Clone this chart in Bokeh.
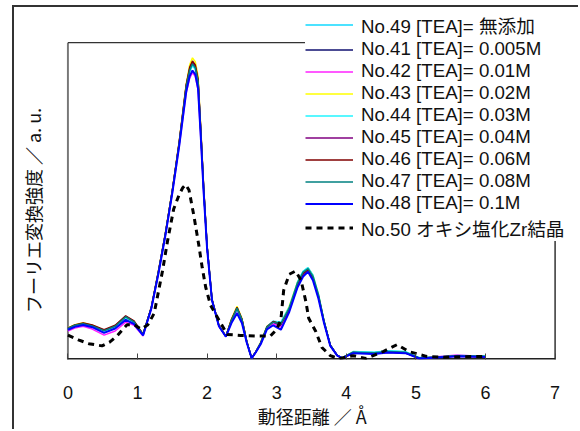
from bokeh.plotting import figure
from bokeh.models import Range1d, FixedTicker, Legend, LegendItem
from bokeh.embed import file_html
from bokeh.resources import INLINE

# ---- data ----
r = [0.00, 0.10, 0.22, 0.35, 0.52, 0.68, 0.83, 0.95, 1.08,
     1.20, 1.30, 1.40, 1.50, 1.60, 1.70, 1.75, 1.79, 1.83, 1.87,
     1.91, 1.95, 2.00, 2.07, 2.17, 2.27, 2.35, 2.43, 2.50, 2.57,
     2.64, 2.70, 2.77, 2.86, 2.95, 3.06, 3.18, 3.30, 3.38, 3.45,
     3.52, 3.60, 3.68, 3.77, 3.87, 3.94, 4.10, 4.40, 4.60, 4.85,
     5.05, 5.30, 5.60, 6.00]

no49 = [0.96, 1.06, 1.12, 1.04, 0.88, 1.02, 1.30, 1.16, 0.78,
        1.64, 2.74, 3.94, 5.30, 6.82, 8.58, 9.10, 9.30, 9.18, 8.75,
        7.13, 5.38, 3.55, 1.89, 1.06, 0.73, 1.22, 1.58, 1.24, 0.55,
        0.04, 0.24, 0.52, 1.03, 1.20, 1.16, 1.64, 2.44, 2.78, 2.90,
        2.66, 2.06, 1.22, 0.45, 0.13, 0.05, 0.24, 0.22, 0.27, 0.24,
        0.05, 0.08, 0.12, 0.10]
no41 = [0.97, 1.07, 1.13, 1.06, 0.90, 1.04, 1.33, 1.18, 0.78,
        1.64, 2.75, 3.95, 5.31, 6.84, 8.62, 9.15, 9.35, 9.23, 8.80,
        7.18, 5.42, 3.56, 1.89, 1.06, 0.73, 1.23, 1.60, 1.25, 0.56,
        0.04, 0.24, 0.51, 1.00, 1.16, 1.06, 1.56, 2.34, 2.69, 2.81,
        2.57, 1.98, 1.18, 0.44, 0.12, 0.04, 0.21, 0.19, 0.23, 0.21,
        0.04, 0.07, 0.11, 0.09]
no42 = [0.90, 0.99, 1.05, 0.96, 0.77, 0.90, 1.18, 1.08, 0.74,
        1.60, 2.70, 3.90, 5.24, 6.74, 8.42, 8.88, 9.05, 8.94, 8.52,
        6.98, 5.28, 3.50, 1.87, 1.05, 0.72, 1.18, 1.52, 1.20, 0.54,
        0.04, 0.23, 0.50, 0.99, 1.13, 1.02, 1.54, 2.33, 2.68, 2.80,
        2.56, 1.97, 1.18, 0.44, 0.12, 0.04, 0.20, 0.20, 0.24, 0.22,
        0.04, 0.09, 0.14, 0.09]
no43 = [1.00, 1.10, 1.16, 1.08, 0.92, 1.06, 1.35, 1.20, 0.80,
        1.66, 2.78, 3.98, 5.35, 6.90, 8.70, 9.30, 9.52, 9.40, 8.95,
        7.30, 5.50, 3.60, 1.92, 1.08, 0.74, 1.28, 1.68, 1.30, 0.58,
        0.04, 0.25, 0.55, 1.05, 1.18, 1.14, 1.68, 2.45, 2.76, 2.88,
        2.65, 2.05, 1.22, 0.46, 0.13, 0.05, 0.24, 0.20, 0.26, 0.22,
        0.05, 0.07, 0.12, 0.10]
no44 = [0.96, 1.05, 1.11, 1.04, 0.87, 1.01, 1.29, 1.15, 0.77,
        1.63, 2.73, 3.93, 5.29, 6.80, 8.56, 9.08, 9.28, 9.16, 8.73,
        7.12, 5.37, 3.55, 1.88, 1.06, 0.73, 1.22, 1.57, 1.23, 0.55,
        0.04, 0.24, 0.53, 1.04, 1.21, 1.18, 1.65, 2.44, 2.78, 2.89,
        2.66, 2.05, 1.22, 0.45, 0.13, 0.05, 0.25, 0.23, 0.28, 0.25,
        0.06, 0.08, 0.13, 0.11]
no45 = [0.98, 1.08, 1.14, 1.07, 0.92, 1.06, 1.36, 1.20, 0.79,
        1.65, 2.76, 3.96, 5.32, 6.86, 8.65, 9.18, 9.38, 9.26, 8.82,
        7.20, 5.43, 3.57, 1.90, 1.07, 0.73, 1.24, 1.62, 1.27, 0.56,
        0.04, 0.24, 0.52, 1.02, 1.19, 1.10, 1.58, 2.36, 2.70, 2.82,
        2.58, 1.99, 1.19, 0.45, 0.13, 0.05, 0.22, 0.18, 0.23, 0.20,
        0.04, 0.06, 0.10, 0.08]
no46 = [0.99, 1.09, 1.15, 1.09, 0.94, 1.08, 1.38, 1.22, 0.80,
        1.66, 2.78, 3.97, 5.33, 6.88, 8.67, 9.22, 9.42, 9.30, 8.85,
        7.22, 5.45, 3.58, 1.90, 1.07, 0.73, 1.26, 1.65, 1.28, 0.57,
        0.04, 0.24, 0.52, 1.03, 1.20, 1.12, 1.60, 2.38, 2.72, 2.84,
        2.60, 2.00, 1.20, 0.45, 0.13, 0.05, 0.22, 0.19, 0.24, 0.21,
        0.04, 0.08, 0.11, 0.09]
no47 = [0.98, 1.08, 1.13, 1.06, 0.91, 1.05, 1.35, 1.19, 0.79,
        1.64, 2.76, 3.95, 5.31, 6.84, 8.61, 9.13, 9.33, 9.21, 8.78,
        7.16, 5.40, 3.56, 1.89, 1.06, 0.73, 1.24, 1.62, 1.27, 0.56,
        0.04, 0.24, 0.52, 1.02, 1.18, 1.12, 1.62, 2.42, 2.76, 2.87,
        2.63, 2.03, 1.21, 0.45, 0.13, 0.05, 0.23, 0.21, 0.25, 0.23,
        0.05, 0.07, 0.12, 0.10]
no48 = [0.94, 1.03, 1.09, 1.02, 0.84, 0.98, 1.25, 1.12, 0.76,
        1.62, 2.70, 3.90, 5.25, 6.75, 8.45, 8.95, 9.12, 9.00, 8.55,
        7.00, 5.30, 3.50, 1.87, 1.05, 0.72, 1.15, 1.46, 1.15, 0.53,
        0.04, 0.23, 0.48, 0.95, 1.08, 0.94, 1.50, 2.28, 2.62, 2.77,
        2.50, 1.92, 1.15, 0.43, 0.12, 0.04, 0.20, 0.17, 0.22, 0.20,
        0.03, 0.06, 0.10, 0.08]

r50 = [0.00, 0.15, 0.30, 0.49, 0.60, 0.71, 0.85, 0.95, 1.05, 1.15,
       1.24, 1.36, 1.43, 1.52, 1.60, 1.65, 1.69, 1.74, 1.81, 1.88,
       1.93, 1.98, 2.05, 2.17, 2.29, 2.48, 2.74, 2.91, 3.00, 3.06,
       3.10, 3.18, 3.27, 3.35, 3.42, 3.46, 3.56, 3.65, 3.77, 3.90,
       4.00, 4.10, 4.28, 4.53, 4.73, 4.90, 5.15, 5.40, 5.70, 6.00]
no50 = [0.77, 0.62, 0.50, 0.43, 0.55, 0.75, 1.10, 1.10, 0.96, 1.10,
        1.46, 2.80, 3.72, 4.75, 5.21, 5.42, 5.52, 5.35, 4.54, 3.62,
        2.90, 2.28, 1.71, 1.25, 0.79, 0.76, 0.74, 0.74, 0.95, 1.25,
        2.18, 2.69, 2.79, 2.50, 1.82, 1.30, 0.89, 0.38, 0.12, 0.02,
        0.08, 0.12, 0.03, 0.25, 0.47, 0.25, 0.10, 0.07, 0.09, 0.10]

labels = ["No.49 [TEA]= 無添加", "No.41 [TEA]= 0.005M", "No.42 [TEA]= 0.01M",
          "No.43 [TEA]= 0.02M", "No.44 [TEA]= 0.03M", "No.45 [TEA]= 0.04M",
          "No.46 [TEA]= 0.06M", "No.47 [TEA]= 0.08M", "No.48 [TEA]= 0.1M",
          "No.50 オキシ塩化Zr結晶"]
colors = ["#10d8ff", "#101070", "#ff22ff", "#ffff00", "#22f4ff",
          "#800080", "#800000", "#008080", "#0000ff", "#000000"]
series = [no49, no41, no42, no43, no44, no45, no46, no47, no48]
x_ticks = [0, 1, 2, 3, 4, 5, 6, 7]
box_x = [0, 7]      # plot box extent (data units)
box_y = [0, 10]

CJK = "Noto Sans CJK JP"

p = figure(width=566, height=424, output_backend="svg", toolbar_location=None,
           x_range=Range1d(-0.02, 7.365), y_range=Range1d(0, 11.11),
           min_border_left=52, min_border_right=0, min_border_top=0, min_border_bottom=64)
p.margin = (7, 0, 0, 14)
p.styles = {"box-shadow": "-2px -2px 0 0 #333"}
p.grid.visible = False
p.outline_line_color = None
p.background_fill_color = "white"
p.border_fill_color = "white"

p.xaxis.ticker = FixedTicker(ticks=x_ticks)
p.xaxis.major_tick_in = 6
p.xaxis.major_tick_out = 0
p.xaxis.minor_tick_line_color = None
p.xaxis.major_label_standoff = 26
p.xaxis.major_label_text_font = "Liberation Sans"
p.xaxis.major_label_text_font_size = "18px"
p.xaxis.major_label_text_color = "#111111"
p.xaxis.axis_line_color = None
p.xaxis.major_tick_line_color = "#444444"
p.xaxis.axis_label = "動径距離 ／ Å\u3000\u2005"
p.xaxis.axis_label_text_font = CJK
p.xaxis.axis_label_text_font_style = "normal"
p.xaxis.axis_label_text_font_size = "18px"
p.xaxis.axis_label_text_color = "#111111"
p.xaxis.axis_label_standoff = 1

p.yaxis.ticker = FixedTicker(ticks=[])
p.yaxis.major_tick_out = 0
p.yaxis.major_tick_in = 0
p.yaxis.minor_tick_line_color = None
p.yaxis.axis_line_color = None
p.yaxis.axis_label = "フーリエ変換強度 ／ a. u.\u3000\u3000\u3000"
p.yaxis.axis_label_text_font = CJK
p.yaxis.axis_label_text_font_style = "normal"
p.yaxis.axis_label_text_font_size = "18px"
p.yaxis.axis_label_text_color = "#111111"
p.yaxis.axis_label_standoff = 21

# plot box borders
p.line([box_x[0], box_x[0]], box_y, line_color="#777777", line_width=2)
p.line(box_x, [box_y[1], box_y[1]], line_color="#333333", line_width=1.2)
p.line([box_x[1], box_x[1]], box_y, line_color="#333333", line_width=1.5)
p.line(box_x, [box_y[0], box_y[0]], line_color="#222222", line_width=3)

renderers = []
for ys, c in zip(series, colors[:9]):
    w = 2 if c == "#0000ff" else 1.5
    renderers.append(p.line(r, ys, line_color=c, line_width=w))
renderers.append(p.line(r50, no50, line_color="black", line_width=3, line_dash="6 5"))

items = [LegendItem(label=lab, renderers=[rd]) for lab, rd in zip(labels, renderers)]
legend = Legend(items=items, location=(239, 118), orientation="vertical")
legend.margin = 0
legend.padding = 12
legend.spacing = 0
legend.glyph_width = 48
legend.glyph_height = 21
legend.label_height = 21
legend.label_standoff = 8
legend.border_line_color = None
legend.background_fill_color = "white"
legend.background_fill_alpha = 1.0
legend.label_text_font = "Liberation Sans, Noto Sans CJK JP"
legend.label_text_font_size = "18.7px"
legend.label_text_color = "#111111"
p.add_layout(legend, "center")

open("out.html", "w").write(file_html(p, INLINE))
